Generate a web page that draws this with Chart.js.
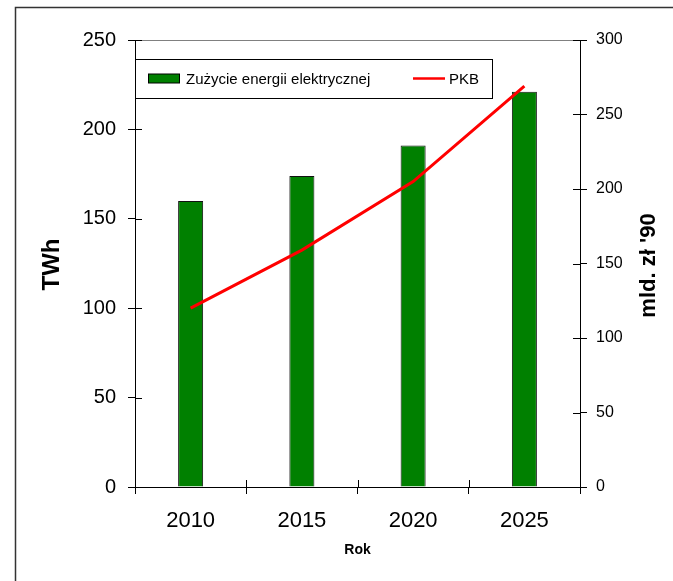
<!DOCTYPE html>
<html>
<head>
<meta charset="utf-8">
<script src="https://cdn.jsdelivr.net/npm/chart.js@4/dist/chart.umd.min.js"></script>
<style>
  html, body { margin: 0; padding: 0; background: #fff; }
  #wrap { width: 673px; height: 581px; }
</style>
</head>
<body>
<div id="wrap"><canvas id="chart" width="673" height="581"></canvas></div>
<script>
const years = ["2010", "2015", "2020", "2025"];
const energyTWh = [160, 174, 191, 221];
const gdpBln90 = [120, 159, 205, 269];
const energyLabel = "Zużycie energii elektrycznej";
const gdpLabel = "PKB";
const leftTitle = "TWh";
const rightTitle = "mld. zł '90";
const xTitle = "Rok";

const FONT = "'Liberation Sans', Arial, sans-serif";

// frame, titles, inner tick halves and the boxed legend
const extras = {
  id: "extras",
  beforeDraw(chart) {
    const ctx = chart.ctx;
    ctx.save();
    ctx.strokeStyle = "#333";
    ctx.lineWidth = 1.5;
    ctx.strokeRect(15.5, 7.5, 800, 800);
    ctx.restore();
  },
  afterDraw(chart) {
    const { ctx, chartArea: a, scales } = chart;
    ctx.save();

    // grey top edge of plot
    ctx.strokeStyle = "#808080";
    ctx.lineWidth = 1;
    ctx.beginPath();
    ctx.moveTo(a.left, a.top + 0.5);
    ctx.lineTo(a.right, a.top + 0.5);
    ctx.stroke();

    // tick marks crossing into the plot
    ctx.strokeStyle = "#000";
    ctx.beginPath();
    scales.y.ticks.forEach((t, i) => {
      const py = Math.round(scales.y.getPixelForTick(i)) + 0.5;
      ctx.moveTo(a.left, py);
      ctx.lineTo(a.left + 7, py);
    });
    scales.y1.ticks.forEach((t, i) => {
      const py = Math.round(scales.y1.getPixelForTick(i)) + 0.5;
      ctx.moveTo(a.right - 7, py);
      ctx.lineTo(a.right, py);
    });
    const step = (a.right - a.left) / years.length;
    for (let i = 0; i < years.length; i++) {
      const px = Math.round(a.left + i * step) + 0.5;
      ctx.moveTo(px, a.bottom - 7);
      ctx.lineTo(px, a.bottom);
    }
    ctx.stroke();

    // axis titles
    ctx.fillStyle = "#000";
    ctx.textAlign = "center";
    ctx.textBaseline = "middle";
    ctx.font = "bold 24px " + FONT;
    ctx.save();
    ctx.translate(52, (a.top + a.bottom) / 2 + 1);
    ctx.rotate(-Math.PI / 2);
    ctx.fillText(leftTitle, 0, 0);
    ctx.restore();

    ctx.font = "bold 22px " + FONT;
    ctx.save();
    ctx.translate(649, (a.top + a.bottom) / 2 + 2);
    ctx.rotate(-Math.PI / 2);
    ctx.fillText(rightTitle, 0, 0);
    ctx.restore();

    ctx.font = "bold 14px " + FONT;
    ctx.fillText(xTitle, (a.left + a.right) / 2, 550);

    // legend box
    const lx = a.left, ly = a.top + 19, lw = 357, lh = 39;
    ctx.fillStyle = "#fff";
    ctx.fillRect(lx, ly, lw, lh);
    ctx.strokeStyle = "#000";
    ctx.lineWidth = 1;
    ctx.strokeRect(lx + 0.5, ly + 0.5, lw, lh);
    const my = ly + lh / 2;
    ctx.fillStyle = "#008000";
    ctx.fillRect(lx + 13.5, my - 4.5, 31, 9);
    ctx.strokeRect(lx + 13.5, my - 4.5, 31, 9);
    ctx.font = "15px " + FONT;
    ctx.fillStyle = "#000";
    ctx.textAlign = "left";
    ctx.fillText(energyLabel, lx + 51, my + 1);
    ctx.strokeStyle = "#ff0000";
    ctx.lineWidth = 2.5;
    ctx.beginPath();
    ctx.moveTo(lx + 278, my);
    ctx.lineTo(lx + 310, my);
    ctx.stroke();
    ctx.fillText(gdpLabel, lx + 314, my + 1);

    ctx.restore();
  }
};

new Chart(document.getElementById("chart"), {
  type: "bar",
  data: {
    labels: years,
    datasets: [
      {
        type: "line",
        label: gdpLabel,
        data: gdpBln90,
        yAxisID: "y1",
        borderColor: "#ff0000",
        borderWidth: 3,
        pointRadius: 0,
        tension: 0,
        order: 0,
      },
      {
        label: energyLabel,
        data: energyTWh,
        yAxisID: "y",
        backgroundColor: "#008000",
        borderColor: "#111",
        borderWidth: 1,
        barPercentage: 0.9,
        categoryPercentage: 0.25,
        order: 1,
      },
    ],
  },
  options: {
    responsive: false,
    animation: false,
    layout: { padding: { top: 40, left: 0, right: 0, bottom: 0 } },
    plugins: {
      legend: { display: false },
      tooltip: { enabled: false },
    },
    scales: {
      x: {
        grid: { drawOnChartArea: false, tickLength: 7, color: "#000" },
        border: { color: "#000", width: 1 },
        ticks: { color: "#000", font: { family: FONT, size: 22 }, padding: 14 },
        afterFit: (s) => { s.height = 94; },
      },
      y: {
        position: "left",
        min: 0,
        max: 250,
        grid: { drawOnChartArea: false, tickLength: 7, color: "#000" },
        border: { color: "#000", width: 1 },
        ticks: { stepSize: 50, color: "#000", font: { family: FONT, size: 20 }, padding: 12 },
        afterFit: (s) => { s.width = 135; },
      },
      y1: {
        position: "right",
        min: 0,
        max: 300,
        grid: { drawOnChartArea: false, tickLength: 7, color: "#000" },
        border: { color: "#000", width: 1 },
        ticks: { stepSize: 50, color: "#000", font: { family: FONT, size: 16 }, padding: 9 },
        afterFit: (s) => { s.width = 93; },
      },
    },
  },
  plugins: [extras],
});
</script>
</body>
</html>
